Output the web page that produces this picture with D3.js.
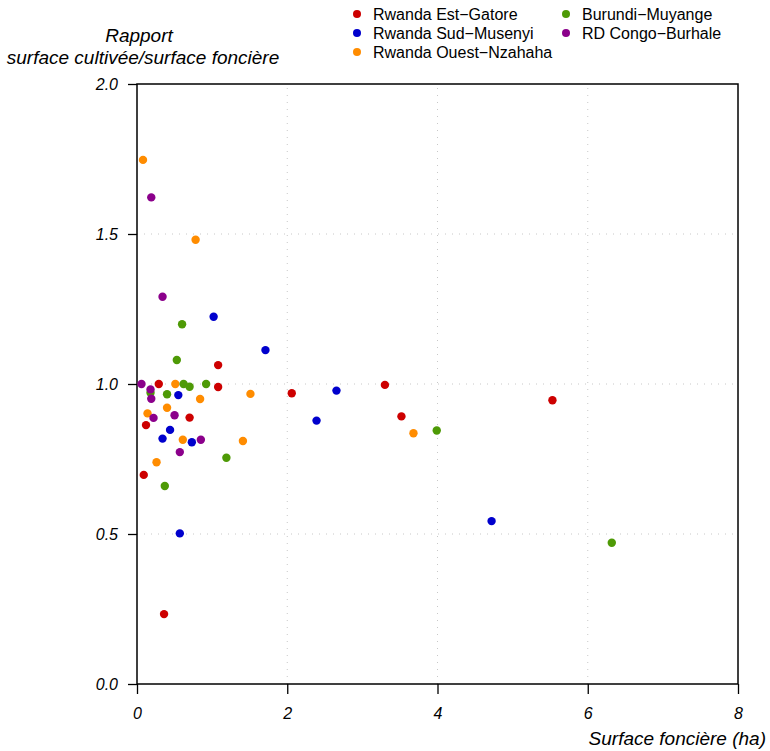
<!DOCTYPE html>
<html><head><meta charset="utf-8">
<script src="https://cdn.jsdelivr.net/npm/d3@7"></script>
<style>body{margin:0;background:#fff;} svg{display:block;font-family:"Liberation Sans",Arial,sans-serif;}</style>
</head><body>
<script>
const seriesNames = ["Rwanda Est−Gatore","Rwanda Sud−Musenyi","Rwanda Ouest−Nzahaha","Burundi−Muyange","RD Congo−Burhale"];
const seriesColors = ["#cd0000","#0000cd","#ff8c00","#4e9a06","#8b008b"];
const estGatore = [[0.29,1.00],[1.08,1.063],[1.08,0.99],[0.70,0.888],[0.12,0.863],[0.09,0.697],[0.36,0.233],[2.06,0.969],[3.30,0.997],[3.52,0.892],[5.53,0.946]];
const sudMusenyi = [[1.02,1.224],[1.71,1.113],[0.55,0.963],[0.44,0.847],[0.34,0.818],[0.73,0.806],[0.57,0.502],[2.655,0.978],[2.39,0.878],[4.72,0.543]];
const ouestNzahaha = [[0.08,1.747],[0.78,1.481],[0.51,1.0],[1.51,0.967],[0.84,0.95],[0.14,0.902],[0.40,0.921],[0.61,0.814],[1.41,0.81],[0.26,0.739],[3.68,0.836]];
const burundiMuyange = [[0.60,1.199],[0.53,1.08],[0.62,1.0],[0.70,0.991],[0.92,1.0],[0.18,0.971],[0.40,0.966],[1.19,0.754],[0.37,0.66],[3.99,0.845],[6.32,0.471]];
const congoBurhale = [[0.19,1.622],[0.34,1.291],[0.06,1.0],[0.18,0.982],[0.19,0.951],[0.22,0.887],[0.50,0.896],[0.85,0.814],[0.57,0.773]];
const xTicks = [0,2,4,6,8];
const yTicks = [0.0,0.5,1.0,1.5,2.0];
const xGrid = [2,4,6];
const yGrid = [0.5,1.0,1.5];

const allSeries = [estGatore,sudMusenyi,ouestNzahaha,burundiMuyange,congoBurhale];

const W=770,H=751;
const svg=d3.select("body").append("svg").attr("width",W).attr("height",H);
const x=d3.scaleLinear().domain([0,8]).range([137,738]);
const y=d3.scaleLinear().domain([0,2]).range([684,84]);

// grid
svg.append("g").selectAll("line").data(xGrid).join("line")
 .attr("x1",d=>x(d)).attr("x2",d=>x(d)).attr("y1",y(0)).attr("y2",y(2))
 .attr("stroke","#c8c8c8").attr("stroke-width",1).attr("stroke-dasharray","1,6");
svg.append("g").selectAll("line").data(yGrid).join("line")
 .attr("y1",d=>y(d)).attr("y2",d=>y(d)).attr("x1",x(0)).attr("x2",x(8))
 .attr("stroke","#c8c8c8").attr("stroke-width",1).attr("stroke-dasharray","1,6");

// axes
const xAxis=d3.axisBottom(x).tickValues(xTicks).tickFormat(d3.format("d")).tickSize(10).tickPadding(14);
const yAxis=d3.axisLeft(y).tickValues(yTicks).tickFormat(d3.format(".1f")).tickSize(9).tickPadding(10);
const gx=svg.append("g").attr("transform",`translate(0,${y(0)})`).call(xAxis);
const gy=svg.append("g").attr("transform",`translate(${x(0)},0)`).call(yAxis);
[gx,gy].forEach(g=>{
  g.attr("font-size",16).attr("font-family","Liberation Sans, Arial, sans-serif");
  g.select(".domain").remove();
  g.selectAll(".tick line").attr("stroke","#000").attr("stroke-width",1.3);
  g.selectAll(".tick text").attr("font-style","italic").attr("fill","#000");
});

// frame
svg.append("rect").attr("x",x(0)).attr("y",y(2)).attr("width",x(8)-x(0)).attr("height",y(0)-y(2))
 .attr("fill","none").attr("stroke","#000").attr("stroke-width",1.5);

// points
allSeries.forEach((s,i)=>{
  svg.append("g").selectAll("circle").data(s).join("circle")
   .attr("cx",d=>x(d[0])).attr("cy",d=>y(d[1])).attr("r",4.2).attr("fill",seriesColors[i]);
});

// titles
const t=svg.append("text").attr("font-size",19).attr("font-style","italic").attr("text-anchor","middle");
t.append("tspan").attr("x",139).attr("y",42).text("Rapport");
t.append("tspan").attr("x",143).attr("y",64).text("surface cultivée/surface foncière");
svg.append("text").attr("x",766).attr("y",745).attr("text-anchor","end").attr("font-size",19).attr("font-style","italic").text("Surface foncière (ha)");

// legend
const legPos=[[357,14],[357,33],[357,52],[566,14],[566,33]];
seriesNames.forEach((n,i)=>{
  const g=svg.append("g");
  g.append("circle").attr("cx",legPos[i][0]).attr("cy",legPos[i][1]).attr("r",4).attr("fill",seriesColors[i]);
  g.append("text").attr("x",legPos[i][0]+16).attr("y",legPos[i][1]+5.5).attr("font-size",16).text(n);
});
</script>
</body></html>
